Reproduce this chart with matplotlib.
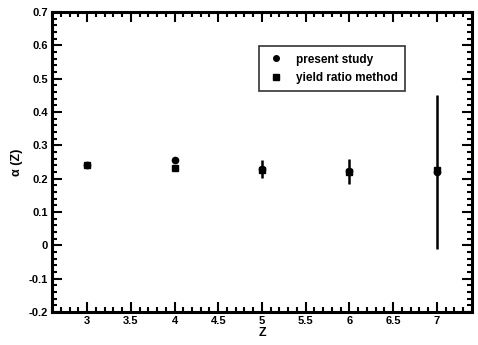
import numpy as np
import matplotlib.pyplot as plt
from matplotlib.ticker import MultipleLocator
from matplotlib.lines import Line2D

plt.rcParams['font.family'] = ['Liberation Sans', 'DejaVu Sans']
plt.rcParams['font.weight'] = 'bold'

# data
z = [3, 4, 5, 6, 7]
alpha_present = [0.242, 0.257, 0.230, 0.222, 0.220]
err_present = [0.0, 0.0, 0.027, 0.037, 0.232]
alpha_yield = [0.240, 0.232, 0.225, 0.220, 0.226]

fig = plt.figure(figsize=(4.78, 3.45), dpi=100)
ax = fig.add_axes([0.109, 0.096, 0.878, 0.869])

ax.errorbar(z, alpha_present, yerr=err_present, fmt='o', color='black',
            ms=4.5, elinewidth=1.8, capsize=0, zorder=3)
ax.plot(z, alpha_yield, 's', color='black', ms=4.5, zorder=3)

ax.set_xlim(2.6, 7.4)
ax.set_ylim(-0.2, 0.7)
ax.xaxis.set_major_locator(MultipleLocator(0.5))
ax.xaxis.set_minor_locator(MultipleLocator(0.1))
ax.yaxis.set_major_locator(MultipleLocator(0.1))
ax.yaxis.set_minor_locator(MultipleLocator(0.02))
ax.set_xticks([3, 3.5, 4, 4.5, 5, 5.5, 6, 6.5, 7])
ax.set_xticklabels(['3', '3.5', '4', '4.5', '5', '5.5', '6', '6.5', '7'])
ax.set_yticklabels([f'{v:g}' for v in np.round(ax.get_yticks(), 1)])

ax.tick_params(which='both', direction='in', top=True, right=True, labelsize=8, width=1.5)
ax.tick_params(which='major', length=7, pad=3)
ax.tick_params(which='minor', length=3.5)
for s in ax.spines.values():
    s.set_linewidth(2.2)

ax.set_xlabel('Z', fontsize=9, fontweight='bold', labelpad=1)
ax.set_ylabel('α (Z)', fontsize=9, fontweight='bold', labelpad=4)

handles = [Line2D([], [], ls='none', marker='o', color='black', ms=4),
           Line2D([], [], ls='none', marker='s', color='black', ms=4)]
leg = ax.legend(handles, ['present study', 'yield ratio method'], loc='upper left',
                bbox_to_anchor=(0.48, 0.905), fontsize=8.5, frameon=True, fancybox=False,
                edgecolor='black', handletextpad=0.9, borderpad=0.6, labelspacing=0.55,
                handlelength=1.6)
leg.get_frame().set_linewidth(1.2)
for t in leg.get_texts():
    t.set_fontweight('bold')

plt.savefig('out.png', dpi=100)
